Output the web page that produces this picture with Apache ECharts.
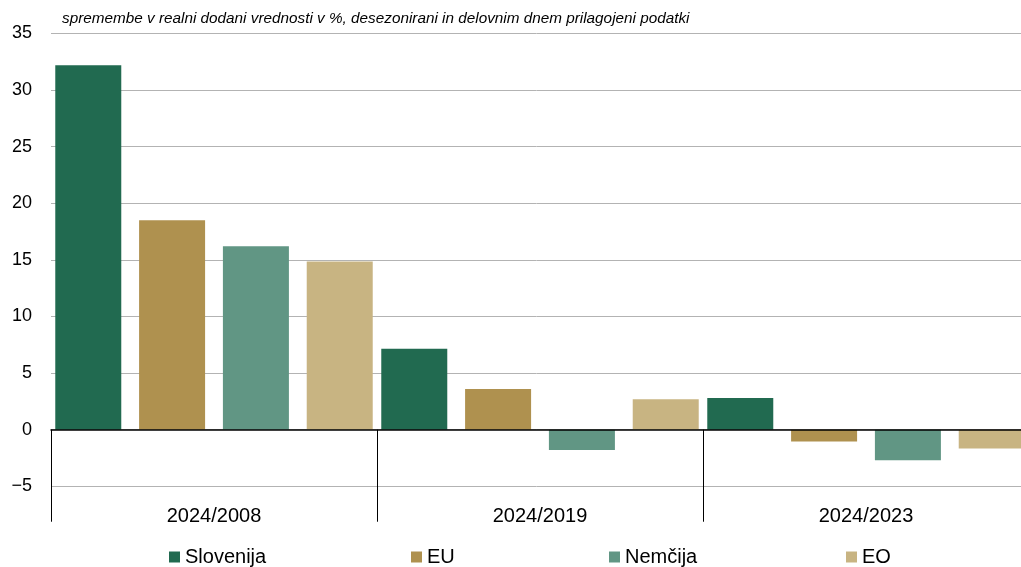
<!DOCTYPE html>
<html>
<head>
<meta charset="utf-8">
<script src="https://cdn.jsdelivr.net/npm/echarts@6/dist/echarts.min.js"></script>
<style>
  html, body { margin: 0; padding: 0; background: #fff; }
  #chart { width: 1021px; height: 567px; }
</style>
</head>
<body>
<div id="chart"></div>
<script>
// obdobja
var categories = ['2024/2008', '2024/2019', '2024/2023'];
// spremembe v realni dodani vrednosti, %
var slovenija = [32.2, 7.15, 2.8];
var eu = [18.5, 3.6, -1.05];
var nemcija = [16.2, -1.8, -2.7];
var eo = [14.85, 2.7, -1.65];
var yTicks = [-5, 0, 5, 10, 15, 20, 25, 30, 35];

var FONT = '"Liberation Sans", Arial, sans-serif';
var colors = ['#216a50', '#af914f', '#619684', '#c8b482'];
var names = ['Slovenija', 'EU', 'Nemčija', 'EO'];
var values = [slovenija, eu, nemcija, eo];

var chart = echarts.init(document.getElementById('chart'));

var seriesData = [];
for (var i = 0; i < names.length; i++) {
    seriesData.push({
        name: names[i],
        type: 'bar',
        xAxisIndex: 0,
        data: values[i],
        barWidth: 66,
        barGap: '27%',
        itemStyle: { color: colors[i] }
    });
}

// legenda: vsak element posebej, enakomerno razporejeni
var legendLeft = [169, 411, 609, 846];
var legends = names.map(function (n, i) {
    return {
        data: [n],
        left: legendLeft[i],
        top: 547,
        padding: 0,
        itemWidth: 11,
        itemHeight: 11,
        itemGap: 0,
        icon: 'rect',
        selectedMode: false,
        textStyle: { fontFamily: FONT, fontSize: 20, color: '#000' }
    };
});

var option = {
    animation: false,
    backgroundColor: '#fff',
    color: colors,
    title: {
        text: 'spremembe v realni dodani vrednosti v %, desezonirani in delovnim dnem prilagojeni podatki',
        left: 62,
        top: 11,
        padding: 0,
        textStyle: {
            fontFamily: FONT,
            fontStyle: 'italic',
            fontWeight: 'normal',
            fontSize: 15.3,
            color: '#000'
        }
    },
    legend: legends,
    grid: {
        left: 51,
        right: -8,
        top: 33.5,
        bottom: 45,
        outerBoundsMode: 'none',
        containLabel: false
    },
    xAxis: [
        {
            // os na ničli: črta in ločilne črtice
            type: 'category',
            data: categories,
            z: 5,
            axisLine: { onZero: true, lineStyle: { color: '#000', width: 1.5 } },
            axisTick: { show: true, inside: false, length: 92, lineStyle: { color: '#000', width: 1 } },
            axisLabel: { show: false },
            splitLine: { show: false }
        },
        {
            // samo napisi obdobij na dnu
            type: 'category',
            data: categories,
            position: 'bottom',
            axisLine: { show: false, onZero: false },
            axisTick: { show: false },
            axisLabel: {
                show: true,
                inside: true,
                interval: 0,
                margin: -4,
                fontFamily: FONT,
                fontSize: 20,
                color: '#000'
            },
            splitLine: { show: false }
        }
    ],
    yAxis: {
        type: 'value',
        min: -8.15,
        max: 35,
        axisLine: { show: false },
        axisTick: { show: false, customValues: yTicks },
        axisLabel: {
            customValues: yTicks,
            margin: 19,
            fontFamily: FONT,
            fontSize: 18,
            color: '#000',
            formatter: function (v) {
                return v < 0 ? '\u2212' + Math.abs(v) : String(v);
            }
        },
        splitLine: { show: true, lineStyle: { color: '#b3b3b3', width: 1 } }
    },
    series: seriesData
};

chart.setOption(option);
</script>
</body>
</html>
